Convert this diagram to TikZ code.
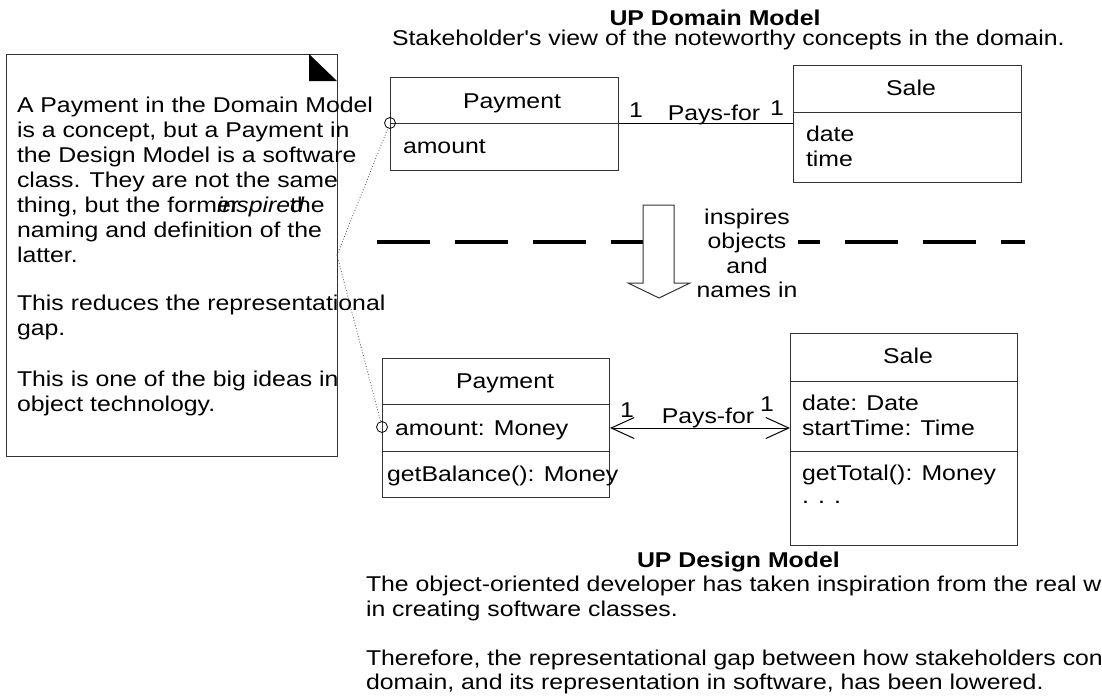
\documentclass[tikz,border=0pt]{standalone}
\usepackage{fontspec}
\setmainfont{Liberation Sans}[FakeStretch=1.16, Ligatures=TeXOff]
\usetikzlibrary{arrows.meta}
\newcommand\dgfont{\fontsize{21.4pt}{25pt}\selectfont}
\definecolor{edgecol}{HTML}{333333}
\begin{document}
\begin{tikzpicture}[x=1pt,y=-1pt,
  txt/.style={inner sep=0pt, outer sep=0pt, font=\dgfont, text=black},
  umlbox/.style={draw=edgecol, line width=1pt, inner sep=0pt},
  divider/.style={draw=edgecol, line width=1pt},
  assoc/.style={draw=black, line width=1pt},
  dotline/.style={draw=black!70, line width=0.8pt, dotted},
  pin/.style={circle, draw=black, line width=0.8pt, minimum size=11pt, inner sep=0pt},
  sepline/.style={line width=3.5pt, dash pattern=on 53pt off 25pt},
  barb/.tip={Straight Barb[length=23pt,width=21pt]}
]
\useasboundingbox (0,0) rectangle (1102,697);
\fill[white] (0,0) rectangle (1102,697);

% ---------- note ----------
\node[umlbox, anchor=north west, minimum width=331pt, minimum height=402pt] (note) at (6,54) {};
\fill[black] (309,54) -- (309,81) -- (337,81) -- cycle;
\foreach \t [count=\i] in {A Payment in the Domain Model,
  {is a concept, but a Payment in},
  the Design Model is a software,
  class. They are not the same,
  {thing, but the form\rlap{er}\textit{inspire\rlap{d}}the},
  naming and definition of the,
  latter.}
  \node[txt, anchor=base west] (nl\i) at (17,87.5+25*\i) {\t};
\node[txt, anchor=base west] (np1) at (17,310.5) {This reduces the representational};
\node[txt, anchor=base west] (np2) at (17,335.5) {gap.};
\node[txt, anchor=base west] (nq1) at (17,386.5) {This is one of the big ideas in};
\node[txt, anchor=base west] (nq2) at (17,411.5) {object technology.};
\coordinate (apex) at (337,255);

% ---------- domain model ----------
\node[txt, anchor=base] (domtitle) at (715,25) {\textbf{UP Domain Model}};
\node[txt, anchor=base west] (domsub) at (392,45) {Stakeholder's view of the noteworthy concepts in the domain.};

\node[umlbox, anchor=north west, minimum width=228pt, minimum height=93pt] (payD) at (390,77) {};
\draw[divider] (payD.west |- 0,123) -- (payD.east |- 0,123);
\node[txt, anchor=base] (payDn) at (512,108) {Payment};
\node[txt, anchor=base west] (payDa) at (403,153) {amount};

\node[umlbox, anchor=north west, minimum width=228pt, minimum height=117pt] (saleD) at (793,65) {};
\draw[divider] (saleD.west |- 0,112) -- (saleD.east |- 0,112);
\node[txt, anchor=base] (saleDn) at (911,95) {Sale};
\node[txt, anchor=base west] (saleDa) at (806,141) {date};
\node[txt, anchor=base west] (saleDb) at (806,166) {time};

\draw[assoc] (payD.east |- 0,123) -- (saleD.west |- 0,123);
\node[txt, anchor=base] (mD1) at (636,117) {1};
\node[txt, anchor=base] (assD) at (714,120) {Pays-for};
\node[txt, anchor=base] (mD2) at (777,115) {1};

% ---------- separator and inspiration arrow ----------
\coordinate (dA) at (377,242);
\coordinate (dB) at (643,242);
\coordinate (dC) at (798,242);
\coordinate (dD) at (1025,242);
\draw[sepline] (dA) -- (dB);
\draw[sepline, dash phase=31pt] (dC) -- (dD);
\draw[draw=edgecol, line width=1pt, fill=white]
  (643,205) -- (674,205) -- (674,283) -- (690,283) -- (659,298) -- (628,283) -- (643,283) -- cycle;
\node[txt, anchor=base] (ins1) at (747,224) {inspires};
\node[txt, anchor=base] (ins2) at (747,248.5) {objects};
\node[txt, anchor=base] (ins3) at (747,273) {and};
\node[txt, anchor=base] (ins4) at (747,297.5) {names in};

% ---------- design model ----------
\node[umlbox, anchor=north west, minimum width=227pt, minimum height=139pt] (payL) at (382,358) {};
\draw[divider] (payL.west |- 0,404) -- (payL.east |- 0,404);
\draw[divider] (payL.west |- 0,451) -- (payL.east |- 0,451);
\node[txt, anchor=base] (payLn) at (505,388) {Payment};
\node[txt, anchor=base west] (payLa) at (395,435) {amount: Money};
\node[txt, anchor=base west] (payLo) at (387,481) {getBalance(): Money};

\node[umlbox, anchor=north west, minimum width=227pt, minimum height=212pt] (saleL) at (790,333) {};
\draw[divider] (saleL.west |- 0,381) -- (saleL.east |- 0,381);
\draw[divider] (saleL.west |- 0,451) -- (saleL.east |- 0,451);
\node[txt, anchor=base] (saleLn) at (908,363) {Sale};
\node[txt, anchor=base west] (saleLa) at (802,410) {date: Date};
\node[txt, anchor=base west] (saleLb) at (802,435) {startTime: Time};
\node[txt, anchor=base west] (saleLo) at (802,480) {getTotal(): Money};
\node[txt, anchor=base west] (saleLp) at (802,503) {. . .};

\draw[assoc, barb-barb] (payL.east) -- (saleL.west |- payL.east);
\node[txt, anchor=base] (mL1) at (627,417) {1};
\node[txt, anchor=base] (assL) at (708,423) {Pays-for};
\node[txt, anchor=base] (mL2) at (767,411) {1};

% ---------- trace pins ----------
\node[pin] (c1) at (390,123) {};
\node[pin] (c2) at (382,427) {};
\draw[dotline] (apex) -- (c1);
\draw[dotline] (apex) -- (c2);

% ---------- design caption ----------
\node[txt, anchor=base west] (destitle) at (637,567) {\textbf{UP Design Model}};
\node[txt, anchor=base west] (des1) at (366,591) {The object-oriented developer has taken inspiration from the real w};
\node[txt, anchor=base west] (des2) at (366,616) {in creating software classes.};
\node[txt, anchor=base west] (des3) at (366,665) {Therefore, the representational gap between how stakeholders con};
\node[txt, anchor=base west] (des4) at (366,689) {domain, and its representation in software, has been lowered.};
\end{tikzpicture}
\end{document}
